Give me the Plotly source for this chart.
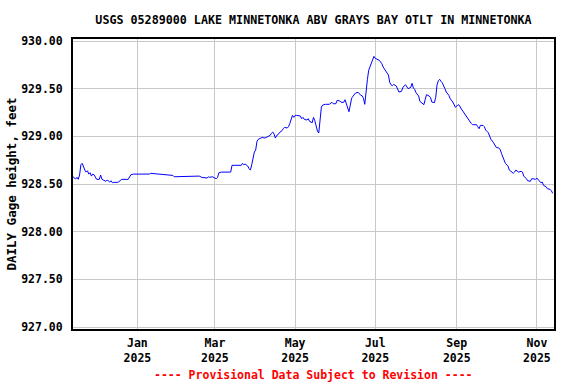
import plotly.graph_objects as go

dates = [
    "2024-11-13", "2024-11-14", "2024-11-15", "2024-11-16", "2024-11-17", "2024-11-18",
    "2024-11-19", "2024-11-20", "2024-11-21", "2024-11-22", "2024-11-23", "2024-11-24",
    "2024-11-25", "2024-11-26", "2024-11-27", "2024-11-28", "2024-11-29", "2024-11-30",
    "2024-12-01", "2024-12-02", "2024-12-03", "2024-12-04", "2024-12-05", "2024-12-06",
    "2024-12-07", "2024-12-08", "2024-12-09", "2024-12-10", "2024-12-11", "2024-12-12",
    "2024-12-13", "2024-12-14", "2024-12-17", "2024-12-18", "2024-12-19", "2024-12-20",
    "2024-12-25", "2024-12-27", "2024-12-29", "2025-01-10", "2025-01-11", "2025-01-20",
    "2025-01-24", "2025-01-28", "2025-01-29", "2025-02-05", "2025-02-06", "2025-02-13",
    "2025-02-14", "2025-02-17", "2025-02-19", "2025-02-21", "2025-02-23", "2025-02-24",
    "2025-02-25", "2025-02-27", "2025-02-28", "2025-03-02", "2025-03-03", "2025-03-04",
    "2025-03-06", "2025-03-13", "2025-03-14", "2025-03-18", "2025-03-19", "2025-03-20",
    "2025-03-21", "2025-03-22", "2025-03-23", "2025-03-24", "2025-03-25", "2025-03-26",
    "2025-03-27", "2025-03-28", "2025-03-29", "2025-03-30", "2025-03-31", "2025-04-01",
    "2025-04-02", "2025-04-03", "2025-04-04", "2025-04-05", "2025-04-06", "2025-04-08",
    "2025-04-09", "2025-04-11", "2025-04-12", "2025-04-13", "2025-04-14", "2025-04-15",
    "2025-04-16", "2025-04-17", "2025-04-18", "2025-04-19", "2025-04-21", "2025-04-22",
    "2025-04-23", "2025-04-25", "2025-04-26", "2025-04-27", "2025-04-28", "2025-04-29",
    "2025-04-30", "2025-05-01", "2025-05-02", "2025-05-04", "2025-05-05", "2025-05-06",
    "2025-05-07", "2025-05-08", "2025-05-10", "2025-05-11", "2025-05-12", "2025-05-14",
    "2025-05-15", "2025-05-16", "2025-05-17", "2025-05-18", "2025-05-19", "2025-05-20",
    "2025-05-21", "2025-05-22", "2025-05-24", "2025-05-27", "2025-05-29", "2025-05-30",
    "2025-06-01", "2025-06-02", "2025-06-04", "2025-06-05", "2025-06-07", "2025-06-08",
    "2025-06-09", "2025-06-10", "2025-06-11", "2025-06-12", "2025-06-13", "2025-06-14",
    "2025-06-15", "2025-06-16", "2025-06-18", "2025-06-19", "2025-06-20", "2025-06-21",
    "2025-06-22", "2025-06-23", "2025-06-24", "2025-06-25", "2025-06-26", "2025-06-27",
    "2025-06-28", "2025-06-29", "2025-06-30", "2025-07-01", "2025-07-02", "2025-07-03",
    "2025-07-04", "2025-07-06", "2025-07-07", "2025-07-09", "2025-07-10", "2025-07-11",
    "2025-07-12", "2025-07-13", "2025-07-14", "2025-07-15", "2025-07-17", "2025-07-18",
    "2025-07-19", "2025-07-21", "2025-07-22", "2025-07-24", "2025-07-25", "2025-07-26",
    "2025-07-28", "2025-07-29", "2025-07-30", "2025-07-31", "2025-08-01", "2025-08-03",
    "2025-08-04", "2025-08-06", "2025-08-07", "2025-08-08", "2025-08-09", "2025-08-11",
    "2025-08-12", "2025-08-13", "2025-08-15", "2025-08-16", "2025-08-17", "2025-08-18",
    "2025-08-19", "2025-08-20", "2025-08-21", "2025-08-23", "2025-08-24", "2025-08-26",
    "2025-08-27", "2025-08-29", "2025-08-30", "2025-08-31", "2025-09-02", "2025-09-03",
    "2025-09-04", "2025-09-06", "2025-09-07", "2025-09-09", "2025-09-10", "2025-09-12",
    "2025-09-13", "2025-09-14", "2025-09-16", "2025-09-17", "2025-09-18", "2025-09-19",
    "2025-09-21", "2025-09-22", "2025-09-23", "2025-09-25", "2025-09-26", "2025-09-27",
    "2025-09-29", "2025-09-30", "2025-10-01", "2025-10-03", "2025-10-04", "2025-10-05",
    "2025-10-07", "2025-10-08", "2025-10-10", "2025-10-11", "2025-10-13", "2025-10-14",
    "2025-10-15", "2025-10-16", "2025-10-18", "2025-10-19", "2025-10-20", "2025-10-21",
    "2025-10-22", "2025-10-24", "2025-10-25", "2025-10-27", "2025-10-28", "2025-10-29",
    "2025-10-31", "2025-11-01", "2025-11-02", "2025-11-04", "2025-11-05", "2025-11-06",
    "2025-11-08", "2025-11-09", "2025-11-11", "2025-11-12", "2025-11-13",
]

gage_height = [
    928.576, 928.565, 928.552, 928.570, 928.549, 928.594,
    928.702, 928.717, 928.675, 928.646, 928.625, 928.639,
    928.604, 928.618, 928.583, 928.604, 928.597, 928.576,
    928.549, 928.549, 928.549, 928.594, 928.549, 928.542,
    928.535, 928.528, 928.542, 928.530, 928.521, 928.534,
    928.513, 928.517, 928.517, 928.525, 928.534, 928.549,
    928.549, 928.597, 928.604, 928.604, 928.612, 928.604,
    928.601, 928.590, 928.576, 928.576, 928.583, 928.576,
    928.583, 928.583, 928.570, 928.562, 928.562, 928.576,
    928.570, 928.576, 928.570, 928.555, 928.570, 928.618,
    928.625, 928.625, 928.696, 928.696, 928.702, 928.702,
    928.696, 928.717, 928.702, 928.709, 928.700, 928.688,
    928.660, 928.646, 928.702, 928.780, 928.835, 928.856,
    928.948, 928.969, 928.975, 928.982, 928.989, 928.982,
    928.989, 928.996, 929.010, 929.032, 929.045, 929.024,
    928.982, 929.010, 929.017, 929.038, 929.059, 929.080,
    929.094, 929.087, 929.101, 929.136, 929.178, 929.220,
    929.199, 929.220, 929.220, 929.220, 929.213, 929.185,
    929.199, 929.178, 929.171, 929.185, 929.157, 929.143,
    929.199, 929.164, 929.110, 929.056, 929.035, 929.220,
    929.307, 929.328, 929.336, 929.336, 929.357, 929.342,
    929.342, 929.378, 929.371, 929.357, 929.357, 929.384,
    929.342, 929.294, 929.258, 929.328, 929.399, 929.420,
    929.433, 929.454, 929.462, 929.441, 929.430, 929.426,
    929.399, 929.336, 929.496, 929.594, 929.693, 929.727,
    929.760, 929.790, 929.839, 929.818, 929.810, 929.804,
    929.798, 929.762, 929.727, 929.685, 929.664, 929.643,
    929.567, 929.540, 929.531, 929.545, 929.528, 929.500,
    929.465, 929.472, 929.514, 929.541, 929.521, 929.500,
    929.514, 929.556, 929.507, 929.493, 929.458, 929.423,
    929.367, 929.346, 929.332, 929.388, 929.437, 929.423,
    929.409, 929.360, 929.353, 929.409, 929.541, 929.583,
    929.598, 929.577, 929.562, 929.500, 929.465, 929.430,
    929.395, 929.360, 929.325, 929.304, 929.332, 929.325,
    929.297, 929.255, 929.227, 929.199, 929.170, 929.136,
    929.122, 929.122, 929.122, 929.101, 929.080, 929.115,
    929.115, 929.101, 929.066, 929.038, 929.003, 928.969,
    928.933, 928.906, 928.885, 928.877, 928.864, 928.822,
    928.759, 928.717, 928.688, 928.646, 928.625, 928.612,
    928.625, 928.646, 928.625, 928.633, 928.633, 928.625,
    928.583, 928.555, 928.534, 928.528, 928.555, 928.555,
    928.549, 928.562, 928.542, 928.513, 928.521, 928.486,
    928.471, 928.450, 928.444, 928.429, 928.402,
]

x_tick_vals = ["2025-01-01", "2025-03-01", "2025-05-01", "2025-07-01", "2025-09-01", "2025-11-01"]
x_tick_text = ["Jan<br>2025", "Mar<br>2025", "May<br>2025", "Jul<br>2025", "Sep<br>2025", "Nov<br>2025"]
y_tick_vals = [927.0, 927.5, 928.0, 928.5, 929.0, 929.5, 930.0]
y_tick_text = ["927.00", "927.50", "928.00", "928.50", "929.00", "929.50", "930.00"]

title_text = "USGS 05289000 LAKE MINNETONKA ABV GRAYS BAY OTLT IN MINNETONKA"
y_title = "DAILY Gage height, feet"
footer_text = "---- Provisional Data Subject to Revision ----"

FONT = "DejaVu Sans Mono"

fig = go.Figure()
fig.add_trace(go.Scatter(
    x=dates, y=gage_height, mode="lines",
    line=dict(color="#0000FF", width=1),
    showlegend=False,
))

fig.update_layout(
    width=576, height=384,
    margin=dict(l=73, r=22, t=39, b=55, autoexpand=False),
    paper_bgcolor="white", plot_bgcolor="white",
    font=dict(family=FONT, size=11.5, color="black", weight="bold"),
    title=dict(
        text=title_text, x=0.5, xref="paper", xanchor="center",
        y=1 - 20 / 384, yref="container", yanchor="middle",
        font=dict(family=FONT, size=11.7, color="black", weight="bold"),
    ),
    xaxis=dict(
        type="date",
        range=["2024-11-13", "2025-11-14"],
        tickvals=x_tick_vals, ticktext=x_tick_text,
        showgrid=True, gridcolor="#C8C8C8", gridwidth=1,
        showline=True, mirror=True, linecolor="black", linewidth=2,
        ticks="", zeroline=False, automargin=False,
        ticklabelstandoff=2,
        tickfont=dict(family=FONT, size=11.5, color="black", weight="bold"),
    ),
    yaxis=dict(
        range=[926.979, 930.021],
        tickvals=y_tick_vals, ticktext=y_tick_text,
        showgrid=True, gridcolor="#C8C8C8", gridwidth=1,
        showline=True, mirror=True, linecolor="black", linewidth=2,
        ticks="", zeroline=False, automargin=False,
        ticklabelstandoff=6,
        tickfont=dict(family=FONT, size=11.5, color="black", weight="bold"),
        title=dict(text=y_title, standoff=2,
                   font=dict(family=FONT, size=12.5, color="black", weight="bold")),
    ),
    annotations=[dict(
        text=footer_text, xref="paper", yref="paper",
        x=0.5, y=-(375 - 329) / 290, xanchor="center", yanchor="middle",
        showarrow=False,
        font=dict(family=FONT, size=11.5, color="#FF0000", weight="bold"),
    )],
)

fig.write_html(
    "out.html",
    config={"displayModeBar": False, "staticPlot": True},
    post_script="document.body.style.margin='0';",
)
